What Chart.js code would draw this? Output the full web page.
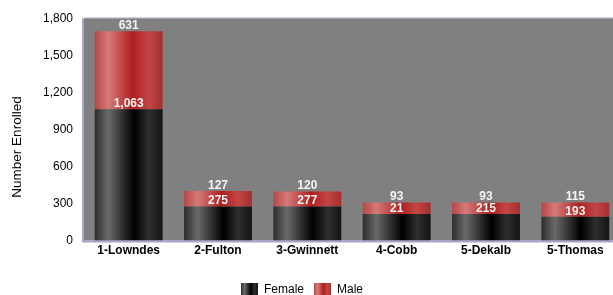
<!DOCTYPE html>
<html>
<head>
<meta charset="utf-8">
<script src="https://cdn.jsdelivr.net/npm/chart.js@4.4.1/dist/chart.umd.min.js"></script>
<style>
    body { margin: 0; background: #ffffff; overflow: hidden; }
    #wrap { width: 613px; height: 295px; overflow: hidden; }
</style>
</head>
<body>
<div id="wrap">
    <canvas id="enrolled-chart" width="622" height="295"></canvas>
</div>
<script>
// Enrollment by county

const categories = ['1-Lowndes', '2-Fulton', '3-Gwinnett', '4-Cobb', '5-Dekalb', '5-Thomas'];
const female = [1063, 275, 277, 215, 215, 193];
const male = [631, 127, 120, 93, 93, 115];
// label text as printed on the bars (Cobb reads "21" in the original)
const femaleText = ['1,063', '275', '277', '21', '215', '193'];
const maleText = ['631', '127', '120', '93', '93', '115'];
const yTicks = [0, 300, 600, 900, 1200, 1500, 1800];
const yTitle = 'Number Enrolled';

const FONT = '"Liberation Sans", Arial, sans-serif';
const BAR_PCT = 0.76;

const femaleStops = [[0, '#2c2c2c'], [0.2, '#6a6a6a'], [0.58, '#000000'], [0.8, '#2e2e2e'], [1, '#141414']];
const maleStops = [[0, '#b64646'], [0.2, '#d47a7a'], [0.56, '#b01f1f'], [0.8, '#c24646'], [1, '#a52e2e']];

function makeGradient(ctx, left, width, stops) {
    const g = ctx.createLinearGradient(left, 0, left + width, 0);
    stops.forEach(s => g.addColorStop(s[0], s[1]));
    return g;
}

function barFill(stops, solid) {
    return function(c) {
        const chart = c.chart;
        if (c.type !== 'data' || !chart.chartArea || !chart.scales.x) return solid;
        const w = chart.chartArea.width / categories.length * BAR_PCT;
        const cx = chart.scales.x.getPixelForValue(c.dataIndex);
        if (!isFinite(cx)) return solid;
        return makeGradient(chart.ctx, cx - w / 2, w, stops);
    };
}

// grey plot area + lavender frame
const plotBackground = {
    id: 'plotBackground',
    beforeDatasetsDraw(chart) {
        const a = chart.chartArea;
        const ctx = chart.ctx;
        ctx.save();
        ctx.fillStyle = '#808080';
        ctx.fillRect(a.left, a.top, a.right - a.left, a.bottom - a.top);
        ctx.strokeStyle = '#c8c8dc';
        ctx.lineWidth = 1;
        ctx.beginPath();
        ctx.moveTo(a.left, a.top - 0.5);
        ctx.lineTo(a.right, a.top - 0.5);
        ctx.stroke();
        ctx.strokeStyle = '#a4a4d0';
        ctx.lineWidth = 2;
        ctx.beginPath();
        ctx.moveTo(a.left - 1, a.top);
        ctx.lineTo(a.left - 1, a.bottom + 1);
        ctx.lineTo(a.right, a.bottom + 1);
        ctx.stroke();
        ctx.restore();
    }
};

// y axis title sits a little lower than the plot's middle in the original
const axisTitle = {
    id: 'axisTitle',
    afterDraw(chart) {
        const ctx = chart.ctx;
        ctx.save();
        ctx.translate(17, 147);
        ctx.rotate(-Math.PI / 2);
        ctx.font = '13.5px ' + FONT;
        ctx.fillStyle = '#000000';
        ctx.textAlign = 'center';
        ctx.textBaseline = 'middle';
        ctx.fillText(yTitle, 0, 0);
        ctx.restore();
    }
};

// white value labels sitting on top of each segment
const valueLabels = {
    id: 'valueLabels',
    afterDatasetsDraw(chart) {
        const ctx = chart.ctx;
        const texts = [femaleText, maleText];
        ctx.save();
        ctx.font = 'bold 12px ' + FONT;
        ctx.fillStyle = '#f4f4f4';
        ctx.textAlign = 'center';
        ctx.textBaseline = 'bottom';
        chart.data.datasets.forEach((ds, di) => {
            chart.getDatasetMeta(di).data.forEach((bar, i) => {
                ctx.fillText(texts[di][i], bar.x, bar.y + 0.5);
            });
        });
        ctx.restore();
    }
};

// move legend down and a bit left, where the original has it
const legendShift = {
    id: 'legendShift',
    afterLayout(chart) {
        const lg = chart.legend;
        if (!lg) return;
        lg.left -= 8;
        lg.right -= 8;
        lg.top += 12;
        lg.bottom += 12;
    }
};

// legend boxes get the same shading as the bars
const legendShade = {
    id: 'legendShade',
    afterDraw(chart) {
        const boxes = chart.legend && chart.legend.legendHitBoxes;
        if (!boxes) return;
        const ctx = chart.ctx;
        const bw = chart.options.plugins.legend.labels.boxWidth;
        const bh = chart.options.plugins.legend.labels.boxHeight;
        [femaleStops, maleStops].forEach((stops, i) => {
            const b = boxes[i];
            if (!b) return;
            const top = b.top + (b.height - bh) / 2;
            ctx.save();
            ctx.fillStyle = makeGradient(ctx, b.left, bw, stops);
            ctx.fillRect(b.left, top, bw, bh);
            ctx.restore();
        });
    }
};

new Chart(document.getElementById('enrolled-chart').getContext('2d'), {
    type: 'bar',
    data: {
        labels: categories,
        datasets: [
            {
                label: 'Female',
                data: female,
                backgroundColor: barFill(femaleStops, '#1a1a1a'),
                borderWidth: 0
            },
            {
                label: 'Male',
                data: male,
                backgroundColor: barFill(maleStops, '#c04040'),
                borderWidth: 0
            }
        ]
    },
    options: {
        responsive: false,
        animation: false,
        events: [],
        layout: {
            padding: { top: 15, right: 2, bottom: 0, left: 0 }
        },
        datasets: {
            bar: { categoryPercentage: 1, barPercentage: BAR_PCT }
        },
        plugins: {
            tooltip: { enabled: false },
            legend: {
                position: 'bottom',
                labels: {
                    font: { family: FONT, size: 12 },
                    color: '#000000',
                    boxWidth: 17,
                    boxHeight: 14,
                    padding: 10
                }
            }
        },
        scales: {
            x: {
                stacked: true,
                grid: { display: false, drawTicks: false },
                border: { display: false },
                ticks: {
                    font: { family: FONT, size: 12, weight: 'bold' },
                    color: '#000000',
                    padding: 3
                }
            },
            y: {
                stacked: true,
                min: 0,
                max: 1800,
                afterBuildTicks: scale => {
                    scale.ticks = yTicks.map(v => ({ value: v }));
                },
                afterFit: scale => {
                    scale.width = 84;
                },
                grid: { display: false, drawTicks: false },
                border: { display: false },
                ticks: {
                    font: { family: FONT, size: 12 },
                    color: '#000000',
                    padding: 11,
                    callback: v => v.toLocaleString('en-US')
                }
            }
        }
    },
    plugins: [plotBackground, axisTitle, valueLabels, legendShift, legendShade]
});
</script>
</body>
</html>
